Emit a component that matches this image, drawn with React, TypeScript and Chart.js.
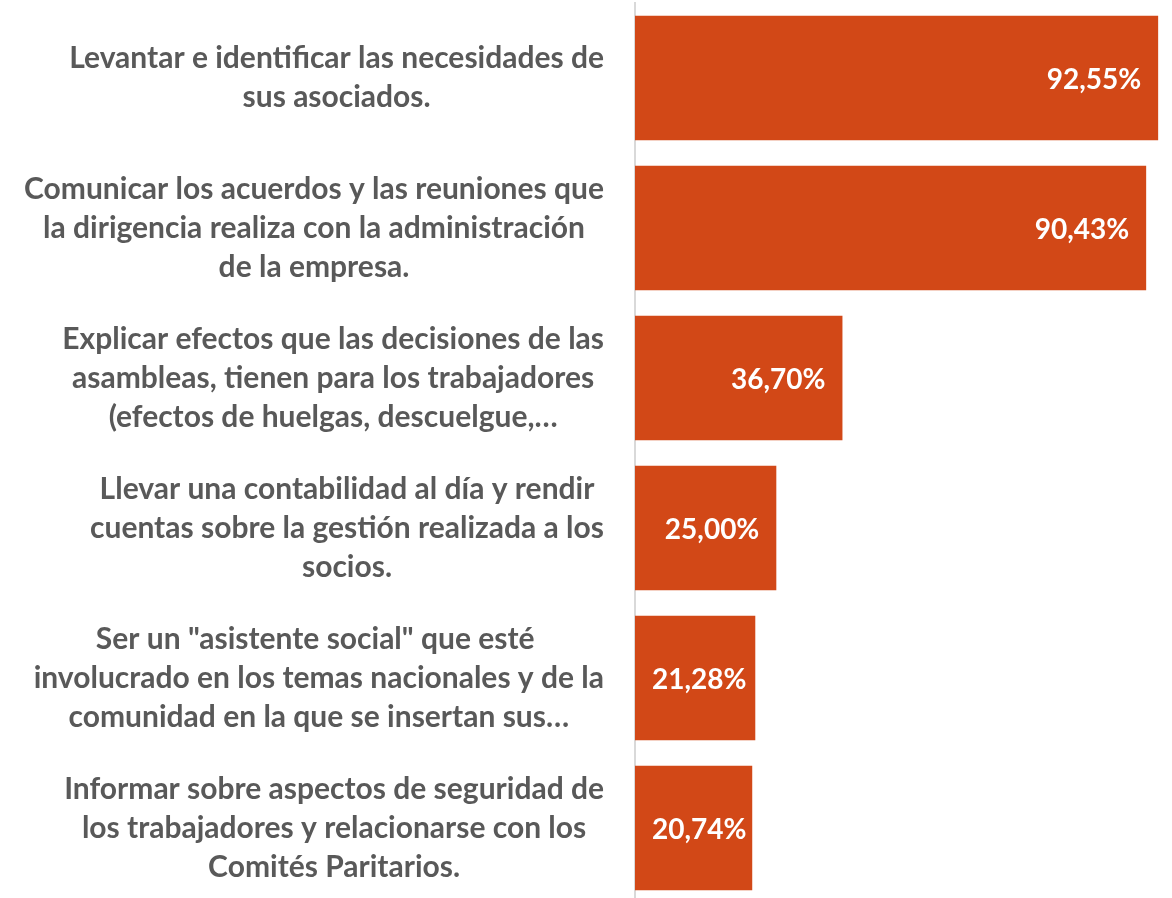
import React, { useEffect, useRef } from "react";
import { Chart, registerables } from "chart.js";

Chart.register(...registerables);

const categories: string[][] = [
  ["Levantar e identificar las necesidades de", "sus asociados."],
  ["Comunicar los acuerdos y las reuniones que", "la dirigencia realiza con la administración", "de la empresa."],
  ["Explicar efectos que las decisiones de las", "asambleas, tienen para los trabajadores", "(efectos de huelgas, descuelgue,…"],
  ["Llevar una contabilidad al día y rendir", "cuentas sobre la gestión realizada a los", "socios."],
  ["Ser un \"asistente social\" que esté ", "involucrado en los temas nacionales y de la", "comunidad en la que se insertan sus…"],
  ["Informar sobre aspectos de seguridad de", "los trabajadores y relacionarse con los", "Comités Paritarios."],
];

const values: number[] = [92.55, 90.43, 36.7, 25.0, 21.28, 20.74];

const BAR_COLOR = "#D24817";
const TEXT_COLOR = "#595959";
const FONT = "Lato, 'Open Sans', sans-serif";
const LABEL_SIZE = 30;
const LINE_GAP = 39;
const VALUE_SIZE = 28;

const labelPlugin = {
  id: "customLabels",
  afterDatasetsDraw(chart: any) {
    const ctx = chart.ctx;
    const yScale = chart.scales.y;
    ctx.save();
    ctx.font = `bold ${LABEL_SIZE}px ${FONT}`;
    ctx.fillStyle = TEXT_COLOR;
    ctx.textBaseline = "middle";
    ctx.textAlign = "center";
    const rightEdge = chart.chartArea.left - 31;
    categories.forEach((lines, i) => {
      const cy = yScale.getPixelForValue(i);
      const widest = Math.max(...lines.map((l) => ctx.measureText(l).width));
      const cx = rightEdge - widest / 2;
      lines.forEach((l, j) => {
        ctx.fillText(l, cx, cy + (j - (lines.length - 1) / 2) * LINE_GAP);
      });
    });
    const meta = chart.getDatasetMeta(0);
    ctx.font = `bold ${VALUE_SIZE}px ${FONT}`;
    ctx.fillStyle = "#FFFFFF";
    ctx.textAlign = "left";
    meta.data.forEach((bar: any, i: number) => {
      const txt = values[i].toFixed(2).replace(".", ",") + "%";
      const w = ctx.measureText(txt).width;
      const left = Math.max(bar.x - 17 - w, bar.base + 17);
      ctx.fillText(txt, left, bar.y + 2);
    });
    ctx.restore();
  },
};

export default function App() {
  const ref = useRef<HTMLCanvasElement | null>(null);
  useEffect(() => {
    document.body.style.margin = "0";
    document.body.style.overflow = "hidden";
    const chart = new Chart(ref.current as HTMLCanvasElement, {
      type: "bar",
      data: {
        labels: categories,
        datasets: [
          {
            data: values,
            backgroundColor: BAR_COLOR,
            borderWidth: 0,
            categoryPercentage: 1,
            barPercentage: 0.83,
          },
        ],
      },
      options: {
        indexAxis: "y",
        animation: false,
        responsive: true,
        maintainAspectRatio: false,
        layout: { padding: { left: 627, top: 3, bottom: 3, right: 0 } },
        plugins: { legend: { display: false }, tooltip: { enabled: false } },
        scales: {
          x: { display: false, min: 0, max: 95 },
          y: {
            display: true,
            ticks: { display: false },
            grid: { display: false },
            border: { display: true, color: "#D9D9D9", width: 2 },
          },
        },
      },
      plugins: [labelPlugin],
    });
    return () => chart.destroy();
  }, []);
  return (
    <div style={{ position: "fixed", left: 0, top: 0, width: 1172, height: 906 }}>
      <canvas ref={ref} />
    </div>
  );
}
